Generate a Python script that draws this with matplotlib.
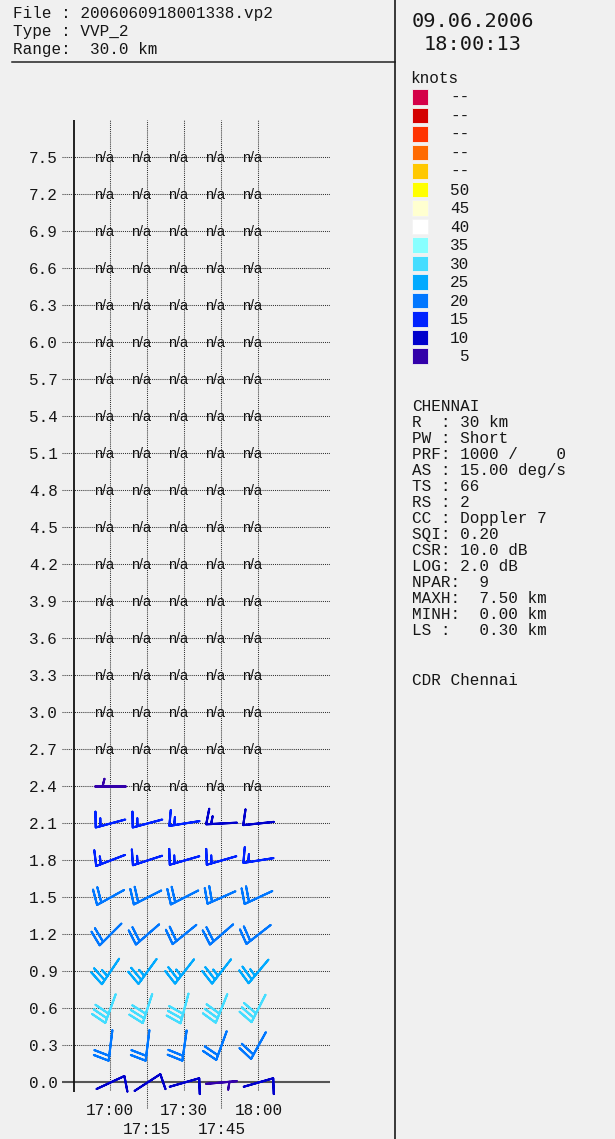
import numpy as np
import matplotlib
matplotlib.use("Agg")
import matplotlib.pyplot as plt
from matplotlib.patches import Rectangle

# ------------------------------------------------------------------ data
time_labels = ["17:00", "17:15", "17:30", "17:45", "18:00"]
time_minutes = [0, 15, 30, 45, 60]
heights_km = [0.0, 0.3, 0.6, 0.9, 1.2, 1.5, 1.8, 2.1, 2.4, 2.7, 3.0, 3.3, 3.6,
              3.9, 4.2, 4.5, 4.8, 5.1, 5.4, 5.7, 6.0, 6.3, 6.6, 6.9, 7.2, 7.5]

# wind direction (deg, from) per height row 0.0 ... 2.4 km, per time
wind_direction_deg = [
    [65, 57, 74, 85, 74],        # 0.0
    [187, 187, 188, 200, 209],   # 0.3
    [200, 198, 195, 202, 207],   # 0.6
    [214, 216, 218, 218, 220],   # 0.9
    [225, 229, 231, 229, 232],   # 1.2
    [241, 243, 243, 246, 245],   # 1.5
    [249, 252, 254, 254, 261],   # 1.8
    [255, 255, 261, 267, 264],   # 2.1
    [270, None, None, None, None],  # 2.4
]
# wind speed (knots)
wind_speed_kt = [
    [11, 11, 11, 6, 11],
    [21, 21, 21, 21, 21],
    [31, 31, 31, 31, 31],
    [26, 26, 26, 26, 26],
    [21, 21, 21, 21, 21],
    [20, 20, 20, 20, 20],
    [16, 16, 16, 16, 16],
    [16, 16, 16, 13, 11],
    [6, None, None, None, None],
]

legend_labels = ["--", "--", "--", "--", "--", "50", "45", "40", "35", "30",
                 "25", "20", "15", "10", "5"]
legend_colors = ["#d40048", "#d40000", "#ff3300", "#ff6a00", "#ffc800",
                 "#ffff00", "#ffffd0", "#ffffff", "#88ffff", "#44ddff",
                 "#00aaff", "#0077ff", "#0022ff", "#0000cc", "#3300aa"]

header_lines = ["File : 2006060918001338.vp2", "Type : VVP_2", "Range:  30.0 km"]
date_lines = ["09.06.2006", "18:00:13"]
info_lines = ["CHENNAI", "R  : 30 km", "PW : Short", "PRF: 1000 /    0",
              "AS : 15.00 deg/s", "TS : 66", "RS : 2", "CC : Doppler 7",
              "SQI: 0.20", "CSR: 10.0 dB", "LOG: 2.0 dB", "NPAR:  9",
              "MAXH:  7.50 km", "MINH:  0.00 km", "LS :   0.30 km"]
footer_text = "CDR Chennai"

# ------------------------------------------------------------------ helpers
W, H = 615, 1139
BG = "#f0f0f0"
TXT = "#161616"
MONO = "Liberation Mono"


def speed_color(s):
    val = int(s // 5) * 5
    for lab, col in zip(legend_labels, legend_colors):
        if lab.strip() == str(val):
            return col
    return legend_colors[-1]


fig = plt.figure(figsize=(W / 100, H / 100), dpi=100, facecolor=BG)

# overlay in pixel coordinates for layout decoration
over = fig.add_axes([0, 0, 1, 1])
over.set_xlim(0, W)
over.set_ylim(H, 0)
over.axis("off")
over.patch.set_alpha(0)

# main plot axes
ax_l, ax_r, ax_t, ax_b = 62, 330, 120, 1092
ax = fig.add_axes([ax_l / W, 1 - ax_b / H, (ax_r - ax_l) / W, (ax_b - ax_t) / H])
ax.patch.set_alpha(0)
x0_px, dx_px = 110.2, 37.07      # px of 17:00, px per 15 min
y0_px, dy_px = 1081.7, 36.99     # px of 0 km, px per 0.3 km


def xd(px):
    return (px - x0_px) / dx_px * 15.0


def yd(px):
    return (y0_px - px) / dy_px * 0.3


ax.set_xlim(xd(ax_l), xd(ax_r))
ax.set_ylim(yd(ax_b), yd(ax_t))
for sp in ax.spines.values():
    sp.set_visible(False)
ax.set_xticks([])
ax.set_yticks(heights_km)
ax.set_yticklabels([f"{h:.1f}" for h in heights_km])
ax.tick_params(axis="y", length=0, pad=3, labelsize=11.5, labelcolor=TXT)
for lab in ax.get_yticklabels():
    lab.set_family(MONO)

dot = (0, (1, 1))
for h in heights_km[1:]:
    ax.axhline(h, color="#333333", lw=0.75, ls=dot, zorder=1)
ax.axhline(0.0, color="#555555", lw=1.5, zorder=1)
for i, t in enumerate(time_minutes):
    bottom = yd(1090) if i % 2 == 0 else yd(1108)
    ax.plot([t, t], [bottom, yd(ax_t)], color="#333333", lw=0.75, ls=dot,
            clip_on=False, zorder=1)
    ty = yd(1115) if i % 2 == 0 else yd(1134.3)
    ax.text(t, ty, time_labels[i], ha="center", va="baseline", family=MONO,
            size=11.5, color=TXT, clip_on=False)
ax.axvline(xd(74), color="#111111", lw=1.3, zorder=2)

# staff length in px = L^2/2 * dpi/72  ->  ~30.6 px
BARB_LEN = 6.64

# barbs / n/a markers
for r, h in enumerate(heights_km):
    for c, t in enumerate(time_minutes):
        s = wind_speed_kt[r][c] if r < len(wind_speed_kt) else None
        d = wind_direction_deg[r][c] if r < len(wind_direction_deg) else None
        if s is None or d is None:
            ax.annotate("n/a", (t, h), xytext=(-6, -1), textcoords="offset pixels",
                        ha="center", va="center", family="Liberation Sans",
                        size=10.3, color="#111111", zorder=2)
            continue
        rad = np.deg2rad(d)
        u = -s * np.sin(rad)
        v = -s * np.cos(rad)
        col = speed_color(s)
        ax.barbs([t], [h], [u], [v], length=BARB_LEN, pivot="middle",
                 barbcolor=col, flagcolor=col, linewidth=1.5,
                 sizes=dict(spacing=0.16, height=0.5, width=-0.25),
                 zorder=3, clip_on=False)

# ------------------------------------------------------------------ layout text
over.plot([12, 395], [61.5, 61.5], color="#222222", lw=1.1)
over.plot([394.5, 394.5], [0, H], color="#1a1a1a", lw=1.2)

for i, s in enumerate(header_lines):
    over.text(13, [18.3, 36.0, 54.0][i], s, ha="left", va="baseline",
              family=MONO, size=11.5, color=TXT)

over.text(411.5, 26.7, date_lines[0], ha="left", va="baseline",
          family="DejaVu Sans Mono", size=14.6, color=TXT)
over.text(424, 50.0, date_lines[1], ha="left", va="baseline",
          family="DejaVu Sans Mono", size=14.6, color=TXT)

over.text(410, 83.3, "knots", ha="left", va="baseline", family=MONO,
          size=11.5, color=TXT)
for i, (lab, col) in enumerate(zip(legend_labels, legend_colors)):
    top = 89.3 + 18.5 * i
    over.add_patch(Rectangle((412.3, top), 16, 15.7, facecolor=col,
                             edgecolor="#f4f4f4", lw=0.6))
    over.text(469.3, top + 7.85 + 5.0, lab, ha="right", va="baseline",
              family=MONO, size=11.5, color=TXT)

for i, s in enumerate(info_lines):
    over.text(412.5, 410.7 + 16.05 * i, s, ha="left", va="baseline",
              family=MONO, size=11.5, color=TXT)
over.text(412.5, 685, footer_text, ha="left", va="baseline", family=MONO,
          size=11.5, color=TXT)

fig.savefig("out.png", dpi=100, facecolor=BG)
